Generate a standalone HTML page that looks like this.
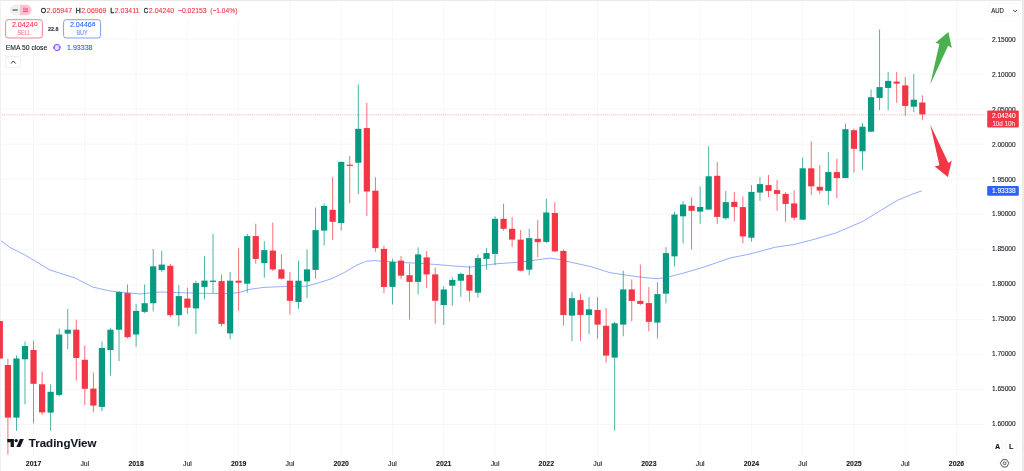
<!DOCTYPE html>
<html><head><meta charset="utf-8"><title>chart</title>
<style>
html,body{margin:0;padding:0;background:#fff;}
body{width:1024px;height:471px;overflow:hidden;position:relative;font-family:"Liberation Sans",sans-serif;color:#131722;}
#c{position:absolute;left:0;top:0;will-change:transform;}
.t{position:absolute;white-space:nowrap;line-height:1;}
.pl{position:absolute;left:991.9px;font-size:6.6px;color:#131722;white-space:nowrap;line-height:1;}
.tl{position:absolute;top:459.4px;font-size:7px;color:#131722;white-space:nowrap;line-height:1;transform:translateX(-50%);}
.tl.b{font-weight:bold;}
</style></head><body>
<svg id="c" width="1024" height="471" viewBox="0 0 1024 471">
<line x1="0" x2="984" y1="39.00" y2="39.00" stroke="#f4f4f5" stroke-width="0.75"/>
<line x1="0" x2="984" y1="74.05" y2="74.05" stroke="#f4f4f5" stroke-width="0.75"/>
<line x1="0" x2="984" y1="109.10" y2="109.10" stroke="#f4f4f5" stroke-width="0.75"/>
<line x1="0" x2="984" y1="144.15" y2="144.15" stroke="#f4f4f5" stroke-width="0.75"/>
<line x1="0" x2="984" y1="179.20" y2="179.20" stroke="#f4f4f5" stroke-width="0.75"/>
<line x1="0" x2="984" y1="214.25" y2="214.25" stroke="#f4f4f5" stroke-width="0.75"/>
<line x1="0" x2="984" y1="249.30" y2="249.30" stroke="#f4f4f5" stroke-width="0.75"/>
<line x1="0" x2="984" y1="284.35" y2="284.35" stroke="#f4f4f5" stroke-width="0.75"/>
<line x1="0" x2="984" y1="319.40" y2="319.40" stroke="#f4f4f5" stroke-width="0.75"/>
<line x1="0" x2="984" y1="354.45" y2="354.45" stroke="#f4f4f5" stroke-width="0.75"/>
<line x1="0" x2="984" y1="389.50" y2="389.50" stroke="#f4f4f5" stroke-width="0.75"/>
<line x1="0" x2="984" y1="424.55" y2="424.55" stroke="#f4f4f5" stroke-width="0.75"/>
<line x1="33.55" x2="33.55" y1="1" y2="456" stroke="#f4f4f5" stroke-width="0.75"/>
<line x1="84.83" x2="84.83" y1="1" y2="456" stroke="#f4f4f5" stroke-width="0.75"/>
<line x1="136.10" x2="136.10" y1="1" y2="456" stroke="#f4f4f5" stroke-width="0.75"/>
<line x1="187.38" x2="187.38" y1="1" y2="456" stroke="#f4f4f5" stroke-width="0.75"/>
<line x1="238.65" x2="238.65" y1="1" y2="456" stroke="#f4f4f5" stroke-width="0.75"/>
<line x1="289.93" x2="289.93" y1="1" y2="456" stroke="#f4f4f5" stroke-width="0.75"/>
<line x1="341.21" x2="341.21" y1="1" y2="456" stroke="#f4f4f5" stroke-width="0.75"/>
<line x1="392.48" x2="392.48" y1="1" y2="456" stroke="#f4f4f5" stroke-width="0.75"/>
<line x1="443.76" x2="443.76" y1="1" y2="456" stroke="#f4f4f5" stroke-width="0.75"/>
<line x1="495.03" x2="495.03" y1="1" y2="456" stroke="#f4f4f5" stroke-width="0.75"/>
<line x1="546.31" x2="546.31" y1="1" y2="456" stroke="#f4f4f5" stroke-width="0.75"/>
<line x1="597.59" x2="597.59" y1="1" y2="456" stroke="#f4f4f5" stroke-width="0.75"/>
<line x1="648.86" x2="648.86" y1="1" y2="456" stroke="#f4f4f5" stroke-width="0.75"/>
<line x1="700.14" x2="700.14" y1="1" y2="456" stroke="#f4f4f5" stroke-width="0.75"/>
<line x1="751.41" x2="751.41" y1="1" y2="456" stroke="#f4f4f5" stroke-width="0.75"/>
<line x1="802.69" x2="802.69" y1="1" y2="456" stroke="#f4f4f5" stroke-width="0.75"/>
<line x1="853.97" x2="853.97" y1="1" y2="456" stroke="#f4f4f5" stroke-width="0.75"/>
<line x1="905.24" x2="905.24" y1="1" y2="456" stroke="#f4f4f5" stroke-width="0.75"/>
<line x1="956.52" x2="956.52" y1="1" y2="456" stroke="#f4f4f5" stroke-width="0.75"/>
<polyline points="0.0,240.0 10.0,247.5 25.0,255.0 50.0,270.0 75.0,278.0 92.7,287.0 110.0,291.0 125.0,292.6 140.0,293.9 160.0,292.0 190.0,293.0 224.0,293.7 239.0,292.7 249.0,289.4 264.0,287.4 286.6,286.4 306.7,286.2 319.2,282.7 331.7,278.7 344.2,272.6 356.8,265.1 366.8,261.1 374.3,260.6 384.3,261.4 404.4,262.6 424.4,263.6 449.5,265.6 470.0,267.2 495.0,263.9 520.0,262.1 535.0,260.1 550.0,258.1 560.0,259.6 570.0,262.1 590.0,266.4 610.0,272.7 630.0,275.7 645.0,277.7 657.9,278.7 667.9,277.2 682.9,273.2 700.5,268.2 715.5,263.1 730.0,258.0 750.0,254.0 775.2,247.2 794.0,244.5 812.7,239.7 835.3,233.2 862.8,221.4 880.4,210.6 897.9,200.1 912.9,193.9 921.7,190.9" fill="none" stroke="#6f93f9" stroke-width="0.75" stroke-linejoin="round"/>
<line x1="0" x2="987" y1="114.83" y2="114.83" stroke="#f23645" stroke-width="1" stroke-dasharray="1 1.1" opacity="0.42"/>
<rect x="0" y="0" width="1" height="471" fill="#f1f1f2"/>
<rect x="-0.65" y="321.0" width="0.9" height="37.5" fill="#f23645" opacity="0.8"/>
<rect x="-3.30" y="321.0" width="6.2" height="37.5" fill="#f23645"/>
<rect x="7.46" y="359.0" width="0.9" height="95.6" fill="#f23645" opacity="0.8"/>
<rect x="4.81" y="365.0" width="6.2" height="52.6" fill="#f23645"/>
<rect x="16.01" y="355.5" width="0.9" height="75.3" fill="#089981" opacity="0.8"/>
<rect x="13.36" y="358.5" width="6.2" height="59.1" fill="#089981"/>
<rect x="24.55" y="341.5" width="0.9" height="62.9" fill="#089981" opacity="0.8"/>
<rect x="21.90" y="346.0" width="6.2" height="13.3" fill="#089981"/>
<rect x="33.10" y="340.7" width="0.9" height="82.6" fill="#f23645" opacity="0.8"/>
<rect x="30.45" y="350.0" width="6.2" height="33.8" fill="#f23645"/>
<rect x="41.65" y="371.8" width="0.9" height="43.1" fill="#f23645" opacity="0.8"/>
<rect x="39.00" y="384.3" width="6.2" height="28.1" fill="#f23645"/>
<rect x="50.19" y="384.3" width="0.9" height="46.5" fill="#089981" opacity="0.8"/>
<rect x="47.54" y="391.8" width="6.2" height="20.8" fill="#089981"/>
<rect x="58.74" y="328.5" width="0.9" height="67.9" fill="#089981" opacity="0.8"/>
<rect x="56.09" y="334.5" width="6.2" height="60.4" fill="#089981"/>
<rect x="67.28" y="308.9" width="0.9" height="40.4" fill="#089981" opacity="0.8"/>
<rect x="64.63" y="329.7" width="6.2" height="4.0" fill="#089981"/>
<rect x="75.83" y="319.7" width="0.9" height="60.9" fill="#f23645" opacity="0.8"/>
<rect x="73.18" y="329.7" width="6.2" height="28.3" fill="#f23645"/>
<rect x="84.38" y="345.5" width="0.9" height="59.4" fill="#f23645" opacity="0.8"/>
<rect x="81.73" y="359.8" width="6.2" height="29.0" fill="#f23645"/>
<rect x="92.92" y="372.6" width="0.9" height="39.8" fill="#f23645" opacity="0.8"/>
<rect x="90.27" y="388.6" width="6.2" height="17.0" fill="#f23645"/>
<rect x="101.47" y="341.5" width="0.9" height="69.6" fill="#089981" opacity="0.8"/>
<rect x="98.82" y="348.0" width="6.2" height="58.9" fill="#089981"/>
<rect x="110.01" y="328.2" width="0.9" height="47.4" fill="#089981" opacity="0.8"/>
<rect x="107.36" y="329.7" width="6.2" height="20.3" fill="#089981"/>
<rect x="118.56" y="291.4" width="0.9" height="69.6" fill="#089981" opacity="0.8"/>
<rect x="115.91" y="292.1" width="6.2" height="37.6" fill="#089981"/>
<rect x="127.11" y="284.4" width="0.9" height="53.8" fill="#f23645" opacity="0.8"/>
<rect x="124.46" y="293.1" width="6.2" height="44.1" fill="#f23645"/>
<rect x="135.65" y="303.9" width="0.9" height="42.9" fill="#089981" opacity="0.8"/>
<rect x="133.00" y="310.9" width="6.2" height="23.6" fill="#089981"/>
<rect x="144.20" y="284.4" width="0.9" height="28.8" fill="#089981" opacity="0.8"/>
<rect x="141.55" y="303.2" width="6.2" height="8.7" fill="#089981"/>
<rect x="152.74" y="249.0" width="0.9" height="62.4" fill="#089981" opacity="0.8"/>
<rect x="150.09" y="266.3" width="6.2" height="36.9" fill="#089981"/>
<rect x="161.29" y="250.8" width="0.9" height="21.3" fill="#089981" opacity="0.8"/>
<rect x="158.64" y="264.6" width="6.2" height="5.5" fill="#089981"/>
<rect x="169.84" y="263.8" width="0.9" height="53.4" fill="#f23645" opacity="0.8"/>
<rect x="167.19" y="265.8" width="6.2" height="49.4" fill="#f23645"/>
<rect x="178.38" y="285.1" width="0.9" height="41.4" fill="#089981" opacity="0.8"/>
<rect x="175.73" y="296.1" width="6.2" height="19.1" fill="#089981"/>
<rect x="186.93" y="287.6" width="0.9" height="26.3" fill="#f23645" opacity="0.8"/>
<rect x="184.28" y="298.6" width="6.2" height="9.1" fill="#f23645"/>
<rect x="195.47" y="280.6" width="0.9" height="53.4" fill="#089981" opacity="0.8"/>
<rect x="192.82" y="283.1" width="6.2" height="25.3" fill="#089981"/>
<rect x="204.02" y="256.3" width="0.9" height="43.1" fill="#089981" opacity="0.8"/>
<rect x="201.37" y="280.6" width="6.2" height="6.3" fill="#089981"/>
<rect x="212.57" y="233.8" width="0.9" height="59.3" fill="#089981" opacity="0.8"/>
<rect x="209.92" y="280.6" width="6.2" height="1.3" fill="#089981"/>
<rect x="221.11" y="274.3" width="0.9" height="52.2" fill="#f23645" opacity="0.8"/>
<rect x="218.46" y="281.1" width="6.2" height="42.8" fill="#f23645"/>
<rect x="229.66" y="271.9" width="0.9" height="67.5" fill="#089981" opacity="0.8"/>
<rect x="227.01" y="280.7" width="6.2" height="52.7" fill="#089981"/>
<rect x="238.20" y="248.1" width="0.9" height="62.6" fill="#f23645" opacity="0.8"/>
<rect x="235.55" y="280.7" width="6.2" height="2.0" fill="#f23645"/>
<rect x="246.75" y="233.8" width="0.9" height="58.9" fill="#089981" opacity="0.8"/>
<rect x="244.10" y="236.1" width="6.2" height="47.6" fill="#089981"/>
<rect x="255.30" y="223.8" width="0.9" height="39.8" fill="#f23645" opacity="0.8"/>
<rect x="252.65" y="236.1" width="6.2" height="22.8" fill="#f23645"/>
<rect x="263.84" y="241.1" width="0.9" height="36.6" fill="#089981" opacity="0.8"/>
<rect x="261.19" y="250.1" width="6.2" height="13.0" fill="#089981"/>
<rect x="272.39" y="222.5" width="0.9" height="48.6" fill="#f23645" opacity="0.8"/>
<rect x="269.74" y="250.6" width="6.2" height="18.8" fill="#f23645"/>
<rect x="280.93" y="254.4" width="0.9" height="25.0" fill="#f23645" opacity="0.8"/>
<rect x="278.28" y="269.4" width="6.2" height="9.3" fill="#f23645"/>
<rect x="289.48" y="271.9" width="0.9" height="42.7" fill="#f23645" opacity="0.8"/>
<rect x="286.83" y="280.7" width="6.2" height="20.1" fill="#f23645"/>
<rect x="298.03" y="260.6" width="0.9" height="48.2" fill="#089981" opacity="0.8"/>
<rect x="295.38" y="280.7" width="6.2" height="21.3" fill="#089981"/>
<rect x="306.57" y="249.4" width="0.9" height="48.8" fill="#089981" opacity="0.8"/>
<rect x="303.92" y="269.4" width="6.2" height="12.0" fill="#089981"/>
<rect x="315.12" y="207.5" width="0.9" height="71.2" fill="#089981" opacity="0.8"/>
<rect x="312.47" y="230.1" width="6.2" height="39.8" fill="#089981"/>
<rect x="323.66" y="203.5" width="0.9" height="42.1" fill="#089981" opacity="0.8"/>
<rect x="321.01" y="206.0" width="6.2" height="24.6" fill="#089981"/>
<rect x="332.21" y="177.2" width="0.9" height="62.6" fill="#f23645" opacity="0.8"/>
<rect x="329.56" y="209.8" width="6.2" height="12.0" fill="#f23645"/>
<rect x="340.76" y="161.5" width="0.9" height="69.1" fill="#089981" opacity="0.8"/>
<rect x="338.11" y="161.9" width="6.2" height="61.1" fill="#089981"/>
<rect x="349.30" y="155.9" width="0.9" height="47.1" fill="#f23645" opacity="0.8"/>
<rect x="346.65" y="164.7" width="6.2" height="1.2" fill="#f23645"/>
<rect x="357.85" y="84.5" width="0.9" height="109.5" fill="#089981" opacity="0.8"/>
<rect x="355.20" y="128.8" width="6.2" height="33.9" fill="#089981"/>
<rect x="366.39" y="103.0" width="0.9" height="113.0" fill="#f23645" opacity="0.8"/>
<rect x="363.74" y="128.1" width="6.2" height="63.4" fill="#f23645"/>
<rect x="374.94" y="177.2" width="0.9" height="74.7" fill="#f23645" opacity="0.8"/>
<rect x="372.29" y="190.7" width="6.2" height="57.4" fill="#f23645"/>
<rect x="383.49" y="245.6" width="0.9" height="47.6" fill="#f23645" opacity="0.8"/>
<rect x="380.84" y="248.9" width="6.2" height="38.0" fill="#f23645"/>
<rect x="392.03" y="258.9" width="0.9" height="45.6" fill="#089981" opacity="0.8"/>
<rect x="389.38" y="261.9" width="6.2" height="25.0" fill="#089981"/>
<rect x="400.58" y="256.1" width="0.9" height="22.6" fill="#f23645" opacity="0.8"/>
<rect x="397.93" y="260.6" width="6.2" height="15.1" fill="#f23645"/>
<rect x="409.12" y="263.6" width="0.9" height="56.0" fill="#f23645" opacity="0.8"/>
<rect x="406.47" y="275.2" width="6.2" height="6.7" fill="#f23645"/>
<rect x="417.67" y="247.3" width="0.9" height="47.1" fill="#089981" opacity="0.8"/>
<rect x="415.02" y="254.4" width="6.2" height="27.5" fill="#089981"/>
<rect x="426.22" y="251.1" width="0.9" height="37.1" fill="#f23645" opacity="0.8"/>
<rect x="423.57" y="257.4" width="6.2" height="17.0" fill="#f23645"/>
<rect x="434.76" y="267.6" width="0.9" height="56.2" fill="#f23645" opacity="0.8"/>
<rect x="432.11" y="274.4" width="6.2" height="26.4" fill="#f23645"/>
<rect x="443.31" y="286.2" width="0.9" height="38.9" fill="#089981" opacity="0.8"/>
<rect x="440.66" y="289.5" width="6.2" height="15.5" fill="#089981"/>
<rect x="451.85" y="276.9" width="0.9" height="28.9" fill="#089981" opacity="0.8"/>
<rect x="449.20" y="279.9" width="6.2" height="5.8" fill="#089981"/>
<rect x="460.40" y="272.6" width="0.9" height="24.3" fill="#089981" opacity="0.8"/>
<rect x="457.75" y="273.9" width="6.2" height="6.8" fill="#089981"/>
<rect x="468.95" y="265.6" width="0.9" height="35.9" fill="#f23645" opacity="0.8"/>
<rect x="466.30" y="274.9" width="6.2" height="15.8" fill="#f23645"/>
<rect x="477.49" y="254.5" width="0.9" height="43.2" fill="#089981" opacity="0.8"/>
<rect x="474.84" y="258.1" width="6.2" height="34.6" fill="#089981"/>
<rect x="486.04" y="248.1" width="0.9" height="21.6" fill="#089981" opacity="0.8"/>
<rect x="483.39" y="253.1" width="6.2" height="5.8" fill="#089981"/>
<rect x="494.58" y="216.3" width="0.9" height="48.9" fill="#089981" opacity="0.8"/>
<rect x="491.93" y="218.8" width="6.2" height="35.1" fill="#089981"/>
<rect x="503.13" y="203.8" width="0.9" height="26.8" fill="#f23645" opacity="0.8"/>
<rect x="500.48" y="218.8" width="6.2" height="10.0" fill="#f23645"/>
<rect x="511.68" y="217.1" width="0.9" height="30.0" fill="#f23645" opacity="0.8"/>
<rect x="509.03" y="228.8" width="6.2" height="10.8" fill="#f23645"/>
<rect x="520.22" y="230.1" width="0.9" height="41.3" fill="#f23645" opacity="0.8"/>
<rect x="517.57" y="239.6" width="6.2" height="31.1" fill="#f23645"/>
<rect x="528.77" y="228.8" width="0.9" height="46.4" fill="#089981" opacity="0.8"/>
<rect x="526.12" y="238.1" width="6.2" height="31.6" fill="#089981"/>
<rect x="537.31" y="220.1" width="0.9" height="37.0" fill="#f23645" opacity="0.8"/>
<rect x="534.66" y="238.8" width="6.2" height="3.3" fill="#f23645"/>
<rect x="545.86" y="198.8" width="0.9" height="44.3" fill="#089981" opacity="0.8"/>
<rect x="543.21" y="212.5" width="6.2" height="29.4" fill="#089981"/>
<rect x="554.41" y="202.0" width="0.9" height="50.1" fill="#f23645" opacity="0.8"/>
<rect x="551.76" y="213.0" width="6.2" height="38.4" fill="#f23645"/>
<rect x="562.95" y="249.4" width="0.9" height="76.2" fill="#f23645" opacity="0.8"/>
<rect x="560.30" y="250.9" width="6.2" height="64.1" fill="#f23645"/>
<rect x="571.50" y="292.2" width="0.9" height="49.2" fill="#089981" opacity="0.8"/>
<rect x="568.85" y="298.2" width="6.2" height="17.4" fill="#089981"/>
<rect x="580.04" y="293.9" width="0.9" height="47.0" fill="#f23645" opacity="0.8"/>
<rect x="577.39" y="300.1" width="6.2" height="14.9" fill="#f23645"/>
<rect x="588.59" y="297.1" width="0.9" height="37.2" fill="#089981" opacity="0.8"/>
<rect x="585.94" y="309.3" width="6.2" height="5.7" fill="#089981"/>
<rect x="597.14" y="297.1" width="0.9" height="41.7" fill="#f23645" opacity="0.8"/>
<rect x="594.49" y="310.0" width="6.2" height="14.6" fill="#f23645"/>
<rect x="605.68" y="308.0" width="0.9" height="54.6" fill="#f23645" opacity="0.8"/>
<rect x="603.03" y="325.8" width="6.2" height="29.8" fill="#f23645"/>
<rect x="614.23" y="322.0" width="0.9" height="108.7" fill="#089981" opacity="0.8"/>
<rect x="611.58" y="323.3" width="6.2" height="34.3" fill="#089981"/>
<rect x="622.77" y="270.7" width="0.9" height="65.6" fill="#089981" opacity="0.8"/>
<rect x="620.12" y="289.4" width="6.2" height="35.2" fill="#089981"/>
<rect x="631.32" y="279.4" width="0.9" height="41.9" fill="#f23645" opacity="0.8"/>
<rect x="628.67" y="289.4" width="6.2" height="11.5" fill="#f23645"/>
<rect x="639.87" y="264.6" width="0.9" height="40.4" fill="#f23645" opacity="0.8"/>
<rect x="637.22" y="300.9" width="6.2" height="3.0" fill="#f23645"/>
<rect x="648.41" y="287.2" width="0.9" height="44.1" fill="#f23645" opacity="0.8"/>
<rect x="645.76" y="303.1" width="6.2" height="18.7" fill="#f23645"/>
<rect x="656.96" y="282.2" width="0.9" height="56.1" fill="#089981" opacity="0.8"/>
<rect x="654.31" y="294.1" width="6.2" height="28.5" fill="#089981"/>
<rect x="665.50" y="247.1" width="0.9" height="56.4" fill="#089981" opacity="0.8"/>
<rect x="662.85" y="253.1" width="6.2" height="40.5" fill="#089981"/>
<rect x="674.05" y="212.0" width="0.9" height="54.4" fill="#089981" opacity="0.8"/>
<rect x="671.40" y="214.5" width="6.2" height="41.9" fill="#089981"/>
<rect x="682.60" y="201.3" width="0.9" height="42.1" fill="#089981" opacity="0.8"/>
<rect x="679.95" y="204.5" width="6.2" height="11.8" fill="#089981"/>
<rect x="691.14" y="197.5" width="0.9" height="51.9" fill="#f23645" opacity="0.8"/>
<rect x="688.49" y="205.8" width="6.2" height="5.0" fill="#f23645"/>
<rect x="699.69" y="186.3" width="0.9" height="37.6" fill="#089981" opacity="0.8"/>
<rect x="697.04" y="207.0" width="6.2" height="4.6" fill="#089981"/>
<rect x="708.23" y="146.3" width="0.9" height="63.3" fill="#089981" opacity="0.8"/>
<rect x="705.58" y="176.3" width="6.2" height="33.3" fill="#089981"/>
<rect x="716.78" y="162.0" width="0.9" height="61.9" fill="#f23645" opacity="0.8"/>
<rect x="714.13" y="175.8" width="6.2" height="41.1" fill="#f23645"/>
<rect x="725.33" y="190.9" width="0.9" height="28.8" fill="#089981" opacity="0.8"/>
<rect x="722.68" y="202.1" width="6.2" height="16.1" fill="#089981"/>
<rect x="733.87" y="192.1" width="0.9" height="29.3" fill="#f23645" opacity="0.8"/>
<rect x="731.22" y="201.9" width="6.2" height="5.0" fill="#f23645"/>
<rect x="742.42" y="196.4" width="0.9" height="46.8" fill="#f23645" opacity="0.8"/>
<rect x="739.77" y="207.1" width="6.2" height="29.3" fill="#f23645"/>
<rect x="750.96" y="185.1" width="0.9" height="56.4" fill="#089981" opacity="0.8"/>
<rect x="748.31" y="191.9" width="6.2" height="45.8" fill="#089981"/>
<rect x="759.51" y="177.1" width="0.9" height="23.8" fill="#089981" opacity="0.8"/>
<rect x="756.86" y="184.1" width="6.2" height="8.5" fill="#089981"/>
<rect x="768.06" y="175.1" width="0.9" height="22.0" fill="#f23645" opacity="0.8"/>
<rect x="765.41" y="185.1" width="6.2" height="5.8" fill="#f23645"/>
<rect x="776.60" y="180.1" width="0.9" height="30.8" fill="#f23645" opacity="0.8"/>
<rect x="773.95" y="190.1" width="6.2" height="3.8" fill="#f23645"/>
<rect x="785.15" y="192.1" width="0.9" height="29.8" fill="#f23645" opacity="0.8"/>
<rect x="782.50" y="193.9" width="6.2" height="10.0" fill="#f23645"/>
<rect x="793.69" y="190.1" width="0.9" height="30.1" fill="#f23645" opacity="0.8"/>
<rect x="791.04" y="203.4" width="6.2" height="14.3" fill="#f23645"/>
<rect x="802.24" y="157.5" width="0.9" height="62.2" fill="#089981" opacity="0.8"/>
<rect x="799.59" y="168.3" width="6.2" height="51.4" fill="#089981"/>
<rect x="810.79" y="141.3" width="0.9" height="53.8" fill="#f23645" opacity="0.8"/>
<rect x="808.14" y="168.3" width="6.2" height="18.0" fill="#f23645"/>
<rect x="819.33" y="165.1" width="0.9" height="28.8" fill="#f23645" opacity="0.8"/>
<rect x="816.68" y="186.8" width="6.2" height="3.8" fill="#f23645"/>
<rect x="827.88" y="152.0" width="0.9" height="53.1" fill="#089981" opacity="0.8"/>
<rect x="825.23" y="172.1" width="6.2" height="18.8" fill="#089981"/>
<rect x="836.42" y="158.8" width="0.9" height="39.3" fill="#f23645" opacity="0.8"/>
<rect x="833.77" y="172.1" width="6.2" height="6.0" fill="#f23645"/>
<rect x="844.97" y="123.5" width="0.9" height="54.6" fill="#089981" opacity="0.8"/>
<rect x="842.32" y="129.2" width="6.2" height="48.9" fill="#089981"/>
<rect x="853.52" y="128.5" width="0.9" height="44.1" fill="#f23645" opacity="0.8"/>
<rect x="850.87" y="130.2" width="6.2" height="18.6" fill="#f23645"/>
<rect x="862.06" y="123.0" width="0.9" height="47.1" fill="#089981" opacity="0.8"/>
<rect x="859.41" y="126.7" width="6.2" height="24.6" fill="#089981"/>
<rect x="870.61" y="89.6" width="0.9" height="42.1" fill="#089981" opacity="0.8"/>
<rect x="867.96" y="97.2" width="6.2" height="34.5" fill="#089981"/>
<rect x="879.15" y="29.5" width="0.9" height="80.7" fill="#089981" opacity="0.8"/>
<rect x="876.50" y="87.1" width="6.2" height="10.8" fill="#089981"/>
<rect x="887.70" y="72.1" width="0.9" height="38.1" fill="#089981" opacity="0.8"/>
<rect x="885.05" y="80.9" width="6.2" height="7.0" fill="#089981"/>
<rect x="896.25" y="72.1" width="0.9" height="30.6" fill="#f23645" opacity="0.8"/>
<rect x="893.60" y="81.6" width="6.2" height="2.0" fill="#f23645"/>
<rect x="904.79" y="77.1" width="0.9" height="38.8" fill="#f23645" opacity="0.8"/>
<rect x="902.14" y="85.4" width="6.2" height="20.5" fill="#f23645"/>
<rect x="913.34" y="74.1" width="0.9" height="38.1" fill="#089981" opacity="0.8"/>
<rect x="910.69" y="99.7" width="6.2" height="7.0" fill="#089981"/>
<rect x="921.88" y="95.3" width="0.9" height="24.9" fill="#f23645" opacity="0.8"/>
<rect x="919.23" y="102.5" width="6.2" height="11.9" fill="#f23645"/>
<polygon points="948.4,31.9 935.2,42.9 939.4,43.8 930.2,84.5 948.1,45.8 951.8,48" fill="#4caf50"/>
<polygon points="930.2,124.4 939.4,165.2 934.8,166.4 947.9,177.1 951.8,160.6 948.4,163" fill="#f23645"/>
<rect x="1" y="1" width="239" height="17" fill="#fff"/>
<rect x="1" y="18" width="102" height="23" fill="#fff"/>
<rect x="1" y="41" width="95" height="14" fill="#fff"/>
<path d="M15.1,4.8 H20 V15.3 H15.1 A5.25,5.25 0 0 1 15.1,4.8 Z" fill="#f0f0f1"/>
<path d="M20,4.8 H26.3 A5.25,5.25 0 0 1 26.3,15.3 H20 Z" fill="#fac5d3"/>
<rect x="12.4" y="9.3" width="5.4" height="1.5" rx="0.5" fill="#6a6d78"/>
<path d="M23,11.6 H28 M23,10 H28 M23,8.5 q1.25,-1 2.5,0 t2.5,0" stroke="#f23d6a" stroke-width="0.8" fill="none"/>
<text x="40.7" y="13.2" font-size="7.1" fill="#131722" stroke="#131722" stroke-width="0.1" font-family="Liberation Sans, sans-serif" textLength="5.4" lengthAdjust="spacingAndGlyphs" style="stroke-width:0.26">O</text>
<text x="46.6" y="13.2" font-size="7.1" fill="#f23645" stroke="#f23645" stroke-width="0.1" font-family="Liberation Sans, sans-serif" textLength="25.5" lengthAdjust="spacingAndGlyphs">2.05947</text>
<text x="75.8" y="13.2" font-size="7.1" fill="#131722" stroke="#131722" stroke-width="0.1" font-family="Liberation Sans, sans-serif" textLength="5.0" lengthAdjust="spacingAndGlyphs" style="stroke-width:0.26">H</text>
<text x="81.2" y="13.2" font-size="7.1" fill="#f23645" stroke="#f23645" stroke-width="0.1" font-family="Liberation Sans, sans-serif" textLength="25.3" lengthAdjust="spacingAndGlyphs">2.06969</text>
<text x="110.3" y="13.2" font-size="7.1" fill="#131722" stroke="#131722" stroke-width="0.1" font-family="Liberation Sans, sans-serif" textLength="4.0" lengthAdjust="spacingAndGlyphs" style="stroke-width:0.26">L</text>
<text x="114.7" y="13.2" font-size="7.1" fill="#f23645" stroke="#f23645" stroke-width="0.1" font-family="Liberation Sans, sans-serif" textLength="24.7" lengthAdjust="spacingAndGlyphs">2.03411</text>
<text x="143.8" y="13.2" font-size="7.1" fill="#131722" stroke="#131722" stroke-width="0.1" font-family="Liberation Sans, sans-serif" textLength="4.4" lengthAdjust="spacingAndGlyphs" style="stroke-width:0.26">C</text>
<text x="148.8" y="13.2" font-size="7.1" fill="#f23645" stroke="#f23645" stroke-width="0.1" font-family="Liberation Sans, sans-serif" textLength="25.3" lengthAdjust="spacingAndGlyphs">2.04240</text>
<text x="177.9" y="13.2" font-size="7.1" fill="#f23645" stroke="#f23645" stroke-width="0.1" font-family="Liberation Sans, sans-serif" textLength="28.8" lengthAdjust="spacingAndGlyphs">−0.02153</text>
<text x="210.2" y="13.2" font-size="7.1" fill="#f23645" stroke="#f23645" stroke-width="0.1" font-family="Liberation Sans, sans-serif" textLength="27.2" lengthAdjust="spacingAndGlyphs">(−1.04%)</text>
<rect x="5.6" y="19.7" width="36.8" height="18.3" rx="2.6" fill="#fff" stroke="#e8505c" stroke-width="0.7"/>
<text x="11.9" y="27.4" font-size="7.1" fill="#f23645" stroke="#f23645" stroke-width="0.1" font-family="Liberation Sans, sans-serif" textLength="21.7" lengthAdjust="spacingAndGlyphs">2.0424</text>
<text x="33.9" y="25.6" font-size="4.8" fill="#f23645" stroke="#f23645" stroke-width="0.1" font-family="Liberation Sans, sans-serif" textLength="3.6" lengthAdjust="spacingAndGlyphs">0</text>
<text x="17.5" y="35.1" font-size="6.4" fill="#f5737e" stroke="#f5737e" stroke-width="0.1" font-family="Liberation Sans, sans-serif" textLength="13.0" lengthAdjust="spacingAndGlyphs">SELL</text>
<text x="48.0" y="31.0" font-size="6.2" fill="#2a2e39" stroke="#2a2e39" stroke-width="0.1" font-family="Liberation Sans, sans-serif" font-weight="bold" textLength="10.6" lengthAdjust="spacingAndGlyphs">22.8</text>
<rect x="63.6" y="19.7" width="37.0" height="18.3" rx="2.6" fill="#fff" stroke="#4f74ea" stroke-width="0.7"/>
<text x="69.9" y="27.4" font-size="7.1" fill="#2962ff" stroke="#2962ff" stroke-width="0.1" font-family="Liberation Sans, sans-serif" textLength="21.7" lengthAdjust="spacingAndGlyphs">2.0446</text>
<text x="91.9" y="25.6" font-size="4.8" fill="#2962ff" stroke="#2962ff" stroke-width="0.1" font-family="Liberation Sans, sans-serif" textLength="3.4" lengthAdjust="spacingAndGlyphs">8</text>
<text x="76.4" y="35.1" font-size="6.4" fill="#6c92ff" stroke="#6c92ff" stroke-width="0.1" font-family="Liberation Sans, sans-serif" textLength="11.3" lengthAdjust="spacingAndGlyphs">BUY</text>
<text x="5.8" y="50.2" font-size="7.0" fill="#131722" stroke="#131722" stroke-width="0.1" font-family="Liberation Sans, sans-serif" textLength="41.4" lengthAdjust="spacingAndGlyphs">EMA 50 close</text>
<circle cx="57.0" cy="47.5" r="4.4" fill="#ebe4ff" opacity="0.55"/>
<circle cx="57.0" cy="47.5" r="2.9" fill="#e9e2ff"/>
<path d="M54.1,48.3 A3.0,3.0 0 0 1 59.2,45.5 M59.9,46.7 A3.0,3.0 0 0 1 54.8,49.5" fill="none" stroke="#7a50f3" stroke-width="1.05"/>
<path d="M52.9,47.6 l2.4,-0.2 l-1.0,2.0 z M61.1,47.4 l-2.4,0.2 l1.0,-2.0 z" fill="#7a50f3"/>
<text x="67.0" y="50.2" font-size="7.0" fill="#2962ff" stroke="#2962ff" stroke-width="0.1" font-family="Liberation Sans, sans-serif" textLength="25.5" lengthAdjust="spacingAndGlyphs">1.93338</text>
<rect x="5.6" y="56.5" width="15.0" height="11.0" rx="1.6" fill="#fff" stroke="#e0e3eb" stroke-width="0.6"/>
<path d="M11.3,63.2 L13.3,61.0 L15.3,63.2" stroke="#2a2e39" stroke-width="1" fill="none" stroke-linecap="round" stroke-linejoin="round"/>
<text x="991.9" y="41.60" font-size="6.8" fill="#131722" stroke="#131722" stroke-width="0.1" font-family="Liberation Sans, sans-serif" textLength="23.8" lengthAdjust="spacingAndGlyphs">2.15000</text>
<text x="991.9" y="76.58" font-size="6.8" fill="#131722" stroke="#131722" stroke-width="0.1" font-family="Liberation Sans, sans-serif" textLength="23.8" lengthAdjust="spacingAndGlyphs">2.10000</text>
<text x="991.9" y="111.55" font-size="6.8" fill="#131722" stroke="#131722" stroke-width="0.1" font-family="Liberation Sans, sans-serif" textLength="23.8" lengthAdjust="spacingAndGlyphs">2.05000</text>
<text x="991.9" y="146.53" font-size="6.8" fill="#131722" stroke="#131722" stroke-width="0.1" font-family="Liberation Sans, sans-serif" textLength="23.8" lengthAdjust="spacingAndGlyphs">2.00000</text>
<text x="991.9" y="181.50" font-size="6.8" fill="#131722" stroke="#131722" stroke-width="0.1" font-family="Liberation Sans, sans-serif" textLength="23.8" lengthAdjust="spacingAndGlyphs">1.95000</text>
<text x="991.9" y="216.47" font-size="6.8" fill="#131722" stroke="#131722" stroke-width="0.1" font-family="Liberation Sans, sans-serif" textLength="23.8" lengthAdjust="spacingAndGlyphs">1.90000</text>
<text x="991.9" y="251.45" font-size="6.8" fill="#131722" stroke="#131722" stroke-width="0.1" font-family="Liberation Sans, sans-serif" textLength="23.8" lengthAdjust="spacingAndGlyphs">1.85000</text>
<text x="991.9" y="286.43" font-size="6.8" fill="#131722" stroke="#131722" stroke-width="0.1" font-family="Liberation Sans, sans-serif" textLength="23.8" lengthAdjust="spacingAndGlyphs">1.80000</text>
<text x="991.9" y="321.40" font-size="6.8" fill="#131722" stroke="#131722" stroke-width="0.1" font-family="Liberation Sans, sans-serif" textLength="23.8" lengthAdjust="spacingAndGlyphs">1.75000</text>
<text x="991.9" y="356.38" font-size="6.8" fill="#131722" stroke="#131722" stroke-width="0.1" font-family="Liberation Sans, sans-serif" textLength="23.8" lengthAdjust="spacingAndGlyphs">1.70000</text>
<text x="991.9" y="391.35" font-size="6.8" fill="#131722" stroke="#131722" stroke-width="0.1" font-family="Liberation Sans, sans-serif" textLength="23.8" lengthAdjust="spacingAndGlyphs">1.65000</text>
<text x="991.9" y="426.32" font-size="6.8" fill="#131722" stroke="#131722" stroke-width="0.1" font-family="Liberation Sans, sans-serif" textLength="23.8" lengthAdjust="spacingAndGlyphs">1.60000</text>
<rect x="989.2" y="3.3" width="29.6" height="12.6" rx="1.4" fill="#fff" stroke="#eef0f3" stroke-width="0.6"/>
<text x="991.2" y="13.0" font-size="6.6" fill="#131722" stroke="#131722" stroke-width="0.1" font-family="Liberation Sans, sans-serif" textLength="12.7" lengthAdjust="spacingAndGlyphs">AUD</text>
<path d="M1013.5,10.3 L1015.1,11.7 L1016.7,10.3" stroke="#2a2e39" stroke-width="0.9" fill="none" stroke-linecap="round" stroke-linejoin="round"/>
<rect x="987.2" y="110.4" width="31.6" height="17.2" rx="1" fill="#f23645"/>
<text x="991.9" y="117.6" font-size="6.6" fill="#fff" stroke="#fff" stroke-width="0.1" font-family="Liberation Sans, sans-serif" textLength="23.8" lengthAdjust="spacingAndGlyphs">2.04240</text>
<text x="992.4" y="125.6" font-size="6.6" fill="#fde6e8" stroke="#fde6e8" stroke-width="0.1" font-family="Liberation Sans, sans-serif" textLength="22.6" lengthAdjust="spacingAndGlyphs">10d 10h</text>
<rect x="987.2" y="186.1" width="31.6" height="9.6" rx="1" fill="#2962ff"/>
<text x="991.9" y="193.3" font-size="6.6" fill="#fff" stroke="#fff" stroke-width="0.1" font-family="Liberation Sans, sans-serif" textLength="23.8" lengthAdjust="spacingAndGlyphs">1.93338</text>
<rect x="992.6" y="440.9" width="9.8" height="11.2" rx="1.4" fill="#fff" stroke="#eef0f3" stroke-width="0.6"/>
<rect x="1006.4" y="440.9" width="9.8" height="11.2" rx="1.4" fill="#fff" stroke="#eef0f3" stroke-width="0.6"/>
<text x="997.5" y="449.3" font-size="7.2" fill="#131722" stroke="#131722" stroke-width="0.1" font-family="Liberation Sans, sans-serif" text-anchor="middle" font-weight="bold">A</text>
<text x="1011.3" y="449.3" font-size="7.2" fill="#131722" stroke="#131722" stroke-width="0.1" font-family="Liberation Sans, sans-serif" text-anchor="middle" font-weight="bold">L</text>
<polygon points="1008.80,463.30 1006.70,466.94 1002.50,466.94 1000.40,463.30 1002.50,459.66 1006.70,459.66" fill="none" stroke="#2a2e39" stroke-width="0.8" stroke-linejoin="round"/>
<circle cx="1004.6" cy="463.3" r="1.4" fill="none" stroke="#2a2e39" stroke-width="0.8"/>
<text x="33.55" y="465.75" font-size="7.0" fill="#131722" stroke="#131722" stroke-width="0.1" font-family="Liberation Sans, sans-serif" text-anchor="middle" font-weight="bold" textLength="15.4" lengthAdjust="spacingAndGlyphs">2017</text>
<text x="84.83" y="465.75" font-size="7.0" fill="#131722" stroke="#131722" stroke-width="0.1" font-family="Liberation Sans, sans-serif" text-anchor="middle" textLength="8.8" lengthAdjust="spacingAndGlyphs">Jul</text>
<text x="136.10" y="465.75" font-size="7.0" fill="#131722" stroke="#131722" stroke-width="0.1" font-family="Liberation Sans, sans-serif" text-anchor="middle" font-weight="bold" textLength="15.4" lengthAdjust="spacingAndGlyphs">2018</text>
<text x="187.38" y="465.75" font-size="7.0" fill="#131722" stroke="#131722" stroke-width="0.1" font-family="Liberation Sans, sans-serif" text-anchor="middle" textLength="8.8" lengthAdjust="spacingAndGlyphs">Jul</text>
<text x="238.65" y="465.75" font-size="7.0" fill="#131722" stroke="#131722" stroke-width="0.1" font-family="Liberation Sans, sans-serif" text-anchor="middle" font-weight="bold" textLength="15.4" lengthAdjust="spacingAndGlyphs">2019</text>
<text x="289.93" y="465.75" font-size="7.0" fill="#131722" stroke="#131722" stroke-width="0.1" font-family="Liberation Sans, sans-serif" text-anchor="middle" textLength="8.8" lengthAdjust="spacingAndGlyphs">Jul</text>
<text x="341.21" y="465.75" font-size="7.0" fill="#131722" stroke="#131722" stroke-width="0.1" font-family="Liberation Sans, sans-serif" text-anchor="middle" font-weight="bold" textLength="15.4" lengthAdjust="spacingAndGlyphs">2020</text>
<text x="392.48" y="465.75" font-size="7.0" fill="#131722" stroke="#131722" stroke-width="0.1" font-family="Liberation Sans, sans-serif" text-anchor="middle" textLength="8.8" lengthAdjust="spacingAndGlyphs">Jul</text>
<text x="443.76" y="465.75" font-size="7.0" fill="#131722" stroke="#131722" stroke-width="0.1" font-family="Liberation Sans, sans-serif" text-anchor="middle" font-weight="bold" textLength="15.4" lengthAdjust="spacingAndGlyphs">2021</text>
<text x="495.03" y="465.75" font-size="7.0" fill="#131722" stroke="#131722" stroke-width="0.1" font-family="Liberation Sans, sans-serif" text-anchor="middle" textLength="8.8" lengthAdjust="spacingAndGlyphs">Jul</text>
<text x="546.31" y="465.75" font-size="7.0" fill="#131722" stroke="#131722" stroke-width="0.1" font-family="Liberation Sans, sans-serif" text-anchor="middle" font-weight="bold" textLength="15.4" lengthAdjust="spacingAndGlyphs">2022</text>
<text x="597.59" y="465.75" font-size="7.0" fill="#131722" stroke="#131722" stroke-width="0.1" font-family="Liberation Sans, sans-serif" text-anchor="middle" textLength="8.8" lengthAdjust="spacingAndGlyphs">Jul</text>
<text x="648.86" y="465.75" font-size="7.0" fill="#131722" stroke="#131722" stroke-width="0.1" font-family="Liberation Sans, sans-serif" text-anchor="middle" font-weight="bold" textLength="15.4" lengthAdjust="spacingAndGlyphs">2023</text>
<text x="700.14" y="465.75" font-size="7.0" fill="#131722" stroke="#131722" stroke-width="0.1" font-family="Liberation Sans, sans-serif" text-anchor="middle" textLength="8.8" lengthAdjust="spacingAndGlyphs">Jul</text>
<text x="751.41" y="465.75" font-size="7.0" fill="#131722" stroke="#131722" stroke-width="0.1" font-family="Liberation Sans, sans-serif" text-anchor="middle" font-weight="bold" textLength="15.4" lengthAdjust="spacingAndGlyphs">2024</text>
<text x="802.69" y="465.75" font-size="7.0" fill="#131722" stroke="#131722" stroke-width="0.1" font-family="Liberation Sans, sans-serif" text-anchor="middle" textLength="8.8" lengthAdjust="spacingAndGlyphs">Jul</text>
<text x="853.97" y="465.75" font-size="7.0" fill="#131722" stroke="#131722" stroke-width="0.1" font-family="Liberation Sans, sans-serif" text-anchor="middle" font-weight="bold" textLength="15.4" lengthAdjust="spacingAndGlyphs">2025</text>
<text x="905.24" y="465.75" font-size="7.0" fill="#131722" stroke="#131722" stroke-width="0.1" font-family="Liberation Sans, sans-serif" text-anchor="middle" textLength="8.8" lengthAdjust="spacingAndGlyphs">Jul</text>
<text x="956.52" y="465.75" font-size="7.0" fill="#131722" stroke="#131722" stroke-width="0.1" font-family="Liberation Sans, sans-serif" text-anchor="middle" font-weight="bold" textLength="15.4" lengthAdjust="spacingAndGlyphs">2026</text>
<g transform="translate(7.3,438.9)" fill="#131722"><path d="M0,0 H6.6 V8.2 H3.3 V3.3 H0 Z"/><circle cx="8.9" cy="1.65" r="1.65"/><path d="M12.6,0 H16.5 L13.0,8.2 H9.1 Z"/></g>
<text x="28.8" y="447.1" font-size="11.2" fill="#131722" stroke="#131722" stroke-width="0.1" font-family="Liberation Sans, sans-serif" font-weight="bold" textLength="67.7" lengthAdjust="spacingAndGlyphs">TradingView</text>
<rect x="0" y="0" width="1024" height="1" fill="#e9e9ea"/>
<rect x="1022" y="0" width="2" height="471" fill="#ebebec"/>
</svg>
<!--UI-->
</body></html>
